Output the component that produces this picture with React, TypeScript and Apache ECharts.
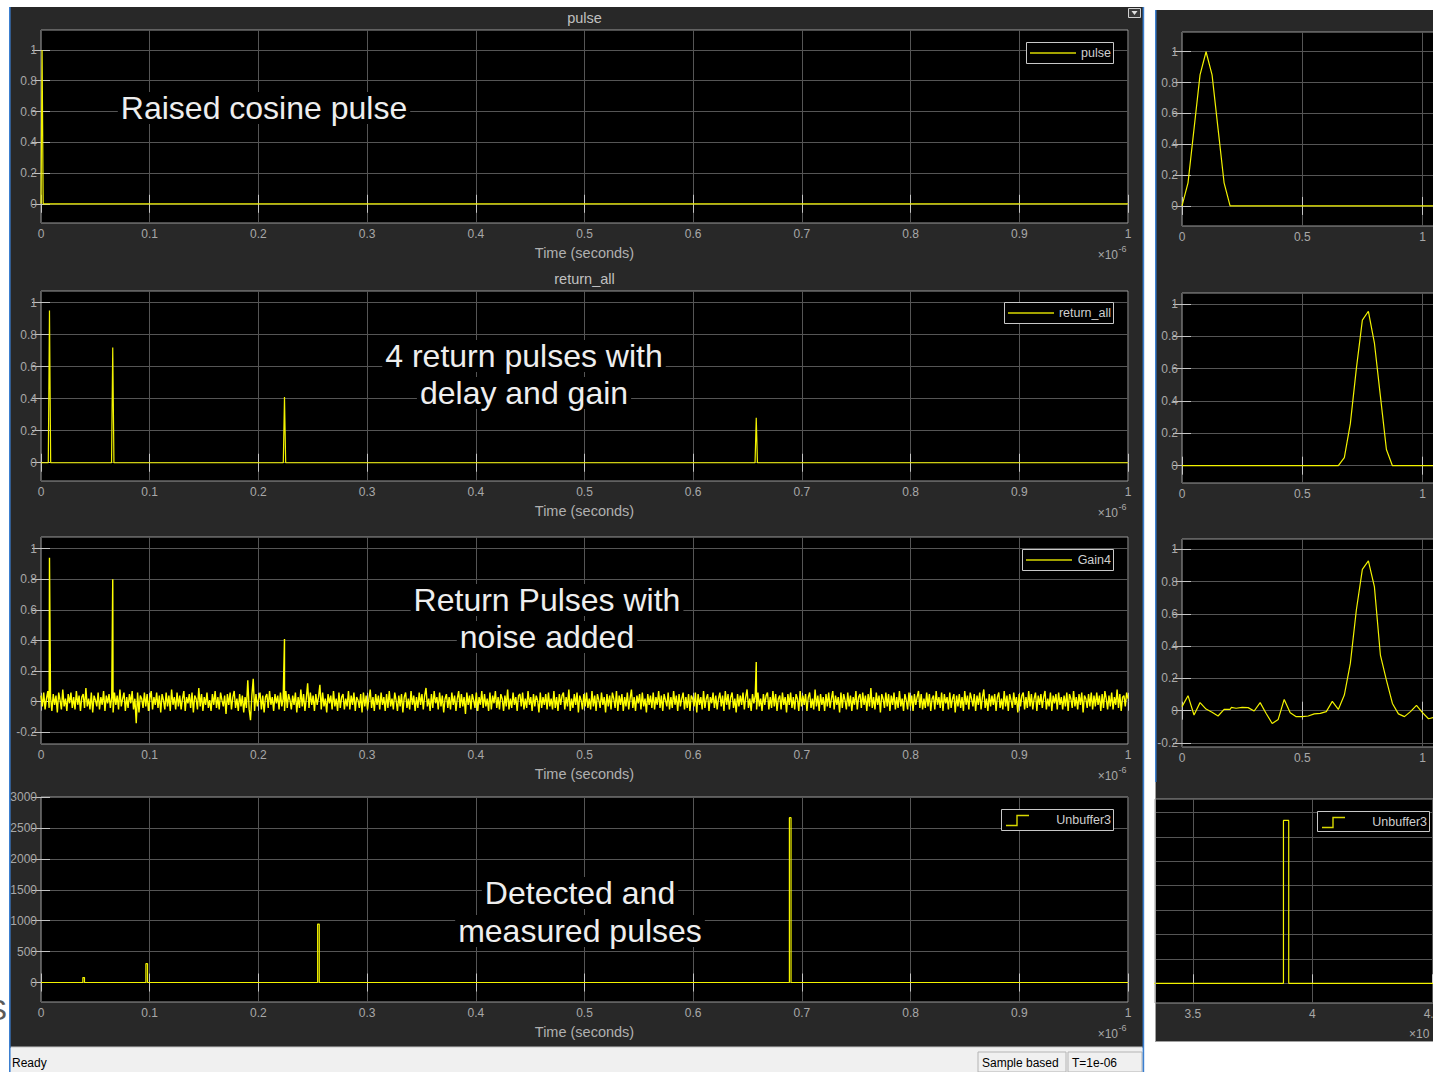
import React, { useEffect, useRef } from "react";
import * as echarts from "echarts";

const FONT = '"Liberation Sans", Arial, Helvetica, sans-serif';

// ---------- tick values ----------
const timeTicks = [0, 0.1, 0.2, 0.3, 0.4, 0.5, 0.6, 0.7, 0.8, 0.9, 1];
const unitTicks = [0, 0.2, 0.4, 0.6, 0.8, 1];
const noiseTicks = [-0.2, 0, 0.2, 0.4, 0.6, 0.8, 1];
const countTicks = [0, 500, 1000, 1500, 2000, 2500, 3000];
const zoomTimeTicks = [0, 0.5, 1];
const stepTimeTicks = [3.5, 4, 4.5];
const stepCountTicks = [0, 400, 800, 1200, 1600, 2000, 2400, 2800];

// ---------- panel 1: raised cosine pulse ----------
const pulseTimes = [0, 0.001, 0.002, 1];
const pulseValues = [0, 1, 0, 0];

// ---------- panel 2: return pulses ----------
const returnTimes = [0.0078, 0.066, 0.224, 0.658];
const returnGains = [0.95, 0.72, 0.41, 0.28];
const returnHalfWidth = 0.0011;

// ---------- panel 3: return pulses with noise (evenly sampled over 0..1) ----------
const noisyGains = [0.94, 0.8, 0.41, 0.26];
const noiseValues = [
  0.04, -0.03, 0.06, -0.05, 0.02, 0.07, -0.04, 0.03, -0.06, 0.05, -0.02, 0.04, -0.07, 0.06, 0.01, -0.05, 0.08, -0.03, 0.02, -0.06, 0.05, -0.01, 0.06, -0.04, 0.03,
  -0.05, 0.07, -0.02, 0.04, -0.06, 0.03, 0.05, -0.04, 0.09, -0.03, 0.02, -0.05, 0.06, -0.07, 0.04, 0.01, -0.03, 0.06, -0.05, 0.03, -0.02, 0.07, -0.06, 0.04, -0.01,
  0.05, -0.04, 0.03, -0.07, 0.06, -0.02, 0.04, -0.05, 0.08, -0.03, 0.02, 0.06, -0.06, 0.03, -0.04, 0.05, -0.01, 0.07, -0.05, 0.02, -0.14, 0.06, -0.07, 0.04, 0.02,
  -0.04, 0.06, -0.03, 0.05, -0.06, 0.02, 0.07, -0.05, 0.03, -0.02, 0.06, -0.04, 0.04, -0.07, 0.05, 0.01, -0.05, 0.06, -0.03, 0.04, -0.06, 0.08, -0.02, 0.03, -0.05,
  0.06, -0.03, 0.04, -0.05, 0.02, 0.07, -0.06, 0.03, -0.01, 0.05, -0.04, 0.06, -0.07, 0.04, 0.02, -0.05, 0.09, -0.03, 0.05, -0.06, 0.03, -0.02, 0.06, -0.04, 0.01,
  -0.06, 0.05, -0.02, 0.07, -0.04, 0.03, -0.05, 0.06, 0.01, -0.03, 0.04, -0.08, 0.05, -0.02, 0.06, -0.05, 0.03, 0.07, -0.04, 0.02, -0.06, 0.05, -0.03, 0.04, -0.07,
  0.03, -0.04, 0.14, -0.05, -0.12, 0.04, 0.15, -0.06, 0.05, -0.03, 0.02, 0.06, -0.05, 0.04, -0.07, 0.03, 0.05, -0.04, 0.07, -0.02, 0.03, -0.06, 0.05, -0.01, 0.04,
  -0.05, 0.06, -0.03, 0.02, -0.06, 0.07, -0.04, 0.05, 0.01, -0.05, 0.04, -0.02, 0.06, -0.07, 0.03, -0.04, 0.08, -0.03, 0.05, -0.06, 0.02, 0.12, -0.04, 0.06, -0.02,
  0.04, -0.06, 0.05, -0.02, 0.03, 0.11, -0.05, 0.06, -0.03, 0.02, -0.07, 0.05, -0.01, 0.04, -0.05, 0.07, -0.03, 0.02, -0.06, 0.06, -0.04, 0.03, 0.05, -0.05, 0.02,
  -0.03, 0.07, -0.05, 0.04, -0.02, 0.06, -0.06, 0.03, 0.01, -0.04, 0.05, -0.07, 0.06, -0.03, 0.04, -0.05, 0.02, 0.08, -0.04, 0.03, -0.06, 0.05, -0.02, 0.04, -0.05,
  0.06, -0.02, 0.03, -0.06, 0.05, -0.04, 0.07, -0.03, 0.02, -0.05, 0.06, 0.01, -0.06, 0.04, -0.03, 0.05, -0.07, 0.03, 0.06, -0.04, 0.02, -0.05, 0.07, -0.02, 0.04,
  -0.06, 0.03, -0.04, 0.06, -0.02, 0.05, -0.05, 0.04, 0.09, -0.03, 0.02, -0.06, 0.05, -0.04, 0.07, -0.01, 0.03, -0.05, 0.06, -0.03, 0.04, -0.07, 0.02, 0.05, -0.04,
  0.03, -0.05, 0.06, -0.02, 0.04, -0.06, 0.02, 0.07, -0.04, 0.05, -0.03, 0.03, -0.08, 0.06, -0.02, 0.04, -0.05, 0.05, 0.01, -0.04, 0.06, -0.06, 0.03, -0.02, 0.07,
  -0.04, 0.05, -0.03, 0.02, -0.06, 0.06, -0.05, 0.04, -0.01, 0.07, -0.04, 0.03, -0.05, 0.05, 0.02, -0.06, 0.04, -0.03, 0.08, -0.05, 0.02, -0.04, 0.06, -0.02, 0.03,
  -0.06, 0.04, 0.05, -0.03, 0.06, -0.05, 0.02, -0.04, 0.07, -0.02, 0.03, -0.06, 0.05, -0.03, 0.04, 0.01, -0.07, 0.06, -0.04, 0.03, -0.02, 0.05, -0.05, 0.06, -0.03,
  0.02, -0.05, 0.07, -0.04, 0.03, -0.06, 0.05, -0.02, 0.04, 0.06, -0.05, 0.03, -0.03, 0.08, -0.06, 0.02, -0.04, 0.05, -0.02, 0.06, -0.07, 0.04, 0.01, -0.05, 0.05,
  -0.03, 0.06, -0.04, 0.02, -0.05, 0.07, -0.03, 0.04, -0.06, 0.05, 0.01, -0.04, 0.06, -0.02, 0.03, -0.07, 0.05, -0.03, 0.04, -0.05, 0.06, 0.02, -0.04, 0.07, -0.06,
  0.04, -0.02, 0.05, -0.06, 0.03, -0.03, 0.06, -0.05, 0.02, 0.08, -0.04, 0.03, -0.06, 0.04, -0.01, 0.05, -0.05, 0.06, -0.03, 0.02, -0.07, 0.05, -0.02, 0.04, -0.04,
  0.06, -0.05, 0.03, -0.02, 0.07, -0.04, 0.04, -0.06, 0.05, 0.01, -0.03, 0.06, -0.05, 0.03, -0.04, 0.07, -0.02, 0.04, -0.06, 0.05, -0.03, 0.02, 0.06, -0.05, 0.03,
  -0.04, 0.05, -0.06, 0.04, 0.02, -0.03, 0.06, -0.07, 0.05, -0.02, 0.03, -0.05, 0.07, -0.04, 0.02, 0.05, -0.06, 0.03, -0.01, 0.06, -0.04, 0.04, -0.05, 0.02, 0.06,
  -0.03, 0.04, -0.06, 0.07, -0.02, 0.05, -0.05, 0.03, 0.06, -0.04, 0.02, -0.07, 0.05, -0.03, 0.04, -0.02, 0.06, -0.05, 0.03, 0.08, -0.04, 0.02, -0.06, 0.05, -0.01,
  0.04, -0.05, 0.06, -0.03, 0.02, -0.06, 0.05, -0.02, 0.04, 0.06, -0.05, 0.03, -0.04, 0.07, -0.03, 0.05, -0.06, 0.02, 0.04, -0.05, 0.06, -0.02, 0.03, -0.07, 0.05,
  -0.02, 0.06, -0.04, 0.03, -0.05, 0.05, 0.02, -0.06, 0.07, -0.03, 0.04, -0.02, 0.05, -0.06, 0.03, 0.06, -0.04, 0.02, -0.05, 0.08, -0.03, 0.04, -0.06, 0.05, -0.02,
  0.03, -0.06, 0.05, -0.03, 0.06, -0.04, 0.02, 0.07, -0.05, 0.04, -0.02, 0.03, -0.07, 0.06, -0.04, 0.05, 0.01, -0.05, 0.06, -0.03, 0.04, -0.06, 0.03, -0.02, 0.07,
  -0.05, 0.03, 0.05, -0.04, 0.06, -0.02, 0.04, -0.06, 0.05, -0.03, 0.09, -0.04, 0.03, -0.05, 0.06, -0.02, 0.04, -0.07, 0.05, 0.02, -0.04, 0.06, -0.03, 0.05, -0.06,
  0.04, -0.02, 0.06, -0.05, 0.03, -0.04, 0.07, -0.03, 0.02, -0.06, 0.05, 0.01, -0.05, 0.06, -0.03, 0.04, -0.06, 0.05, -0.02, 0.03, 0.07, -0.04, 0.05, -0.05, 0.02,
  -0.04, 0.06, -0.03, 0.05, -0.06, 0.02, 0.04, -0.05, 0.07, -0.02, 0.03, -0.04, 0.06, -0.06, 0.05, -0.01, 0.03, -0.05, 0.06, -0.04, 0.02, 0.05, -0.07, 0.04, -0.03,
  0.05, -0.04, 0.03, -0.06, 0.07, -0.02, 0.04, -0.05, 0.06, 0.02, -0.03, 0.05, -0.06, 0.04, -0.02, 0.06, -0.05, 0.03, 0.08, -0.04, 0.02, -0.06, 0.05, -0.03, 0.04,
  -0.02, 0.05, -0.06, 0.03, 0.06, -0.04, 0.02, -0.05, 0.07, -0.03, 0.04, -0.06, 0.05, 0.01, -0.04, 0.06, -0.02, 0.03, -0.07, 0.05, -0.03, 0.04, 0.06, -0.05, 0.03,
  -0.04, 0.07, -0.03, 0.05, -0.05, 0.02, 0.06, -0.06, 0.04, -0.02, 0.05, -0.04, 0.03, 0.07, -0.05, 0.02, -0.03, 0.06, -0.06, 0.04, -0.01, 0.05, -0.05, 0.06, -0.02,
  0.03, -0.05, 0.04, -0.03, 0.06, -0.06, 0.05, 0.02, -0.04, 0.07, -0.03, 0.03, -0.05, 0.05, -0.02, 0.06, -0.07, 0.04, 0.02, -0.04, 0.05, -0.03, 0.06, -0.05, 0.04,
  -0.03, 0.06, -0.02, 0.04, -0.06, 0.05, -0.04, 0.07, 0.02, -0.05, 0.04, -0.03, 0.06, -0.05, 0.03, -0.02, 0.08, -0.04, 0.05, -0.06, 0.03, 0.04, -0.03, 0.06, 0.02,
];

// ---------- panel 4: detected pulses ----------
const detectTimes = [0.0385, 0.0965, 0.2545, 0.6885];
const detectCounts = [80, 305, 945, 2665];
const detectWidth = 0.0015;

// ---------- right column zooms ----------
const zoomPulseTimes = [0, 0.025, 0.05, 0.075, 0.1, 0.125, 0.15, 0.175, 0.2, 1.2];
const zoomPulseValues = [0, 0.15, 0.5, 0.85, 1, 0.85, 0.5, 0.15, 0, 0];
const zoomReturnTimes = [0, 0.65, 0.675, 0.7, 0.725, 0.75, 0.775, 0.8, 0.825, 0.85, 0.875, 1.2];
const zoomReturnValues = [0, 0, 0.05, 0.26, 0.6, 0.9, 0.955, 0.76, 0.43, 0.1, 0, 0];
const zoomNoisyTimes = [
  0, 0.025, 0.05, 0.075, 0.1, 0.125, 0.15, 0.175, 0.2, 0.205, 0.225, 0.25, 0.275, 0.3, 0.325, 0.35,
  0.375, 0.4, 0.425, 0.45, 0.475, 0.5, 0.525, 0.55, 0.575, 0.6, 0.625, 0.65, 0.675, 0.7, 0.725, 0.75,
  0.775, 0.8, 0.825, 0.85, 0.875, 0.9, 0.925, 0.95, 0.975, 1.0, 1.025, 1.05, 1.075, 1.1, 1.125, 1.15,
];
const zoomNoisyValues = [
  0.025, 0.093, -0.027, 0.05, 0.01, -0.01, -0.033, 0.008, 0.008, 0.02, 0.015, 0.02, 0.019, -0.002, 0.05, -0.017,
  -0.079, -0.054, 0.07, -0.012, -0.037, -0.037, -0.033, -0.02, -0.017, -0.006, 0.058, 0.008, 0.097, 0.293, 0.624, 0.876,
  0.928, 0.769, 0.345, 0.19, 0.045, -0.02, -0.037, -0.006, 0.033, -0.012, -0.05, -0.04, 0.02, -0.03, 0.01, 0.0,
];
const stepEdges = [3.879, 3.901];
const stepCount = 2670;

// ---------- styling ----------
const LABEL = "#a8a8a8";
const TICK = "#c4c4c4";
const GRIDC = "#555555";
const FRAME = "#9a9a9a";
const SIGNAL = "#f2f200";
const WINDOW = "#282828";

type PanelDef = {
  left: number; top: number; width: number; height: number;
  x: number[]; y: number[]; xt: number[]; yt: number[]; hideY?: boolean;
};

const panels: PanelDef[] = [
  { left: 41, top: 30, width: 1087, height: 193, x: [0, 1], y: [-0.125, 1.13], xt: timeTicks, yt: unitTicks },
  { left: 41, top: 291, width: 1087, height: 190, x: [0, 1], y: [-0.114, 1.072], xt: timeTicks, yt: unitTicks },
  { left: 41, top: 537, width: 1087, height: 207, x: [0, 1], y: [-0.276, 1.076], xt: timeTicks, yt: noiseTicks },
  { left: 41, top: 797, width: 1087, height: 205, x: [0, 1], y: [-315, 3000], xt: timeTicks, yt: countTicks },
  { left: 1182, top: 32, width: 278, height: 194, x: [0, 1.156], y: [-0.13, 1.128], xt: zoomTimeTicks, yt: unitTicks },
  { left: 1182, top: 293, width: 278, height: 190, x: [0, 1.156], y: [-0.107, 1.068], xt: zoomTimeTicks, yt: unitTicks },
  { left: 1182, top: 539, width: 278, height: 208, x: [0, 1.156], y: [-0.225, 1.064], xt: zoomTimeTicks, yt: noiseTicks },
  { left: 1155, top: 799, width: 305, height: 204, x: [3.342, 4.617], y: [-323, 3021], xt: stepTimeTicks, yt: stepCountTicks, hideY: true },
];

const fmt = (v: number) => String(Math.round(v * 1000) / 1000);

function zip(a: number[], b: number[]) {
  return a.map((t, i) => [t, b[i]]);
}

function buildData() {
  const p1 = zip(pulseTimes, pulseValues);

  const p2: number[][] = [[0, 0]];
  returnTimes.forEach((t, i) => {
    p2.push([t - returnHalfWidth, 0], [t, returnGains[i]], [t + returnHalfWidth, 0]);
  });
  p2.push([1, 0]);

  const n = noiseValues.length;
  const p3: number[][] = noiseValues.map((v, i) => [i / (n - 1), v]);
  returnTimes.forEach((t, i) => p3.push([t, noisyGains[i]]));
  p3.sort((a, b) => a[0] - b[0]);

  const p4: number[][] = [[0, 0]];
  detectTimes.forEach((t, i) => {
    p4.push([t, 0], [t, detectCounts[i]], [t + detectWidth, detectCounts[i]], [t + detectWidth, 0]);
  });
  p4.push([1, 0]);

  const r1 = zip(zoomPulseTimes, zoomPulseValues);
  const r2 = zip(zoomReturnTimes, zoomReturnValues);
  const r3 = zip(zoomNoisyTimes, zoomNoisyValues);
  const r4 = [
    [3.3, 0], [stepEdges[0], 0], [stepEdges[0], stepCount],
    [stepEdges[1], stepCount], [stepEdges[1], 0], [4.7, 0],
  ];
  return [p1, p2, p3, p4, r1, r2, r3, r4];
}

function buildOption() {
  const grid: any[] = [];
  const xAxis: any[] = [];
  const yAxis: any[] = [];
  const labelStyle = { color: LABEL, fontSize: 12, fontFamily: FONT };

  panels.forEach((p, k) => {
    grid.push({
      left: p.left, top: p.top, width: p.width, height: p.height,
      show: true, backgroundColor: "#000", borderColor: FRAME, borderWidth: 1,
      containLabel: false, outerBoundsMode: "none",
    });
    const tick = (vals: number[], show = true) => ({
      show, inside: true, length: 9, customValues: vals,
      lineStyle: { color: TICK, width: 1 },
    });
    xAxis.push({
      type: "value", gridIndex: k, position: "bottom", min: p.x[0], max: p.x[1],
      axisLine: { show: false }, axisTick: tick(p.xt),
      axisLabel: { show: true, customValues: p.xt, margin: 5, formatter: fmt, ...labelStyle },
      splitLine: { show: true, lineStyle: { color: GRIDC, width: 1 } },
    });
    xAxis.push({
      type: "value", gridIndex: k, position: "top", min: p.x[0], max: p.x[1],
      axisLine: { show: false }, axisTick: tick(p.xt, !p.hideY),
      axisLabel: { show: false }, splitLine: { show: false },
    });
    yAxis.push({
      type: "value", gridIndex: k, position: "left", min: p.y[0], max: p.y[1],
      axisLine: { show: false }, axisTick: tick(p.yt, !p.hideY),
      axisLabel: { show: !p.hideY, customValues: p.yt, margin: 4, formatter: fmt, ...labelStyle },
      splitLine: { show: true, lineStyle: { color: GRIDC, width: 1 } },
    });
    yAxis.push({
      type: "value", gridIndex: k, position: "right", min: p.y[0], max: p.y[1],
      axisLine: { show: false }, axisTick: tick(p.yt, !p.hideY),
      axisLabel: { show: false }, splitLine: { show: false },
    });
  });

  const data = buildData();
  const series = data.map((d, k) => ({
    type: "line", xAxisIndex: 2 * k, yAxisIndex: 2 * k, data: d,
    symbol: "none", showSymbol: false, silent: true, clip: true,
    lineStyle: { color: k === 2 ? "#ffff00" : SIGNAL, width: k === 2 ? 1.4 : 1.2 },
    z: 3,
  }));

  const els: any[] = [];
  const rect = (x: number, y: number, w: number, h: number, style: any, z = -10) =>
    els.push({ type: "rect", z, shape: { x, y, width: w, height: h }, style });
  const text = (x: number, y: number, t: string, style: any, z = 60) =>
    els.push({ type: "text", z, x, y, style: { text: t, fontFamily: FONT, ...style } });

  // windows
  rect(10, 7, 1134, 1041, { fill: WINDOW });
  rect(9, 7, 1.6, 1065, { fill: "#3b7fd0" }, 40);
  rect(1142.6, 7, 1.6, 1065, { fill: "#3b7fd0" }, 40);
  rect(1155, 10, 290, 1032, { fill: WINDOW });
  rect(1155, 10, 1.5, 772, { fill: "#3b7fd0" }, 40);
  rect(1155, 782, 1, 260, { fill: "#a0a0a0" }, 40);
  rect(1155, 1041, 290, 1, { fill: "#a0a0a0" }, 40);
  // status bar
  rect(10.6, 1047, 1132, 25, { fill: "#f0f0f0" }, 30);
  rect(10.6, 1046.5, 1132, 1, { fill: "#c4c4c4" }, 31);
  rect(978, 1052, 88, 20, { fill: "none", stroke: "#b4b4b4", lineWidth: 1 }, 32);
  rect(1068, 1052, 74, 20, { fill: "none", stroke: "#b4b4b4", lineWidth: 1 }, 32);
  text(12, 1063, "Ready", { fill: "#000", fontSize: 12, verticalAlign: "middle" });
  text(982, 1063, "Sample based", { fill: "#000", fontSize: 12, verticalAlign: "middle" });
  text(1072, 1063, "T=1e-06", { fill: "#000", fontSize: 12, verticalAlign: "middle" });
  // small undock icon
  rect(1128.5, 8.5, 12, 9, { fill: "#3a3a3a", stroke: "#d0d0d0", lineWidth: 1 }, 32);
  els.push({ type: "polygon", z: 33, shape: { points: [[1131.5, 11], [1137.5, 11], [1134.5, 15]] }, style: { fill: "#e0e0e0" } });
  // stray background glyph
  text(7, 1009, "S", { fill: "#5a5a5a", fontSize: 30, align: "right", verticalAlign: "middle" }, -5);

  // titles
  text(584.5, 18, "pulse", { fill: "#c0c0c0", fontSize: 14.5, align: "center", verticalAlign: "middle" });
  text(584.5, 279, "return_all", { fill: "#c0c0c0", fontSize: 14.5, align: "center", verticalAlign: "middle" });

  // x axis names and exponents (left column)
  panels.slice(0, 4).forEach((p) => {
    const b = p.top + p.height;
    text(584.5, b + 30, "Time (seconds)", { fill: "#b0b0b0", fontSize: 14.5, align: "center", verticalAlign: "middle" });
    text(1118, b + 32, "\u00d710", { fill: LABEL, fontSize: 12, align: "right", verticalAlign: "middle" });
    text(1118.5, b + 26, "-6", { fill: LABEL, fontSize: 9, align: "left", verticalAlign: "middle" });
  });
  text(1409, 1034, "\u00d710", { fill: LABEL, fontSize: 12, align: "left", verticalAlign: "middle" });

  // legends
  const legends = [
    { x: 1026, y: 42, w: 87, h: 21, label: "pulse", step: false },
    { x: 1004, y: 302, w: 109, h: 21, label: "return_all", step: false },
    { x: 1022, y: 549, w: 91, h: 21, label: "Gain4", step: false },
    { x: 1001, y: 809, w: 112, h: 21, label: "Unbuffer3", step: true },
    { x: 1317, y: 811, w: 112, h: 20, label: "Unbuffer3", step: true },
  ];
  legends.forEach((L) => {
    rect(L.x + 0.5, L.y + 0.5, L.w, L.h, { fill: "#000", stroke: "#c8c8c8", lineWidth: 1 }, 50);
    const my = L.y + L.h / 2 + 0.5;
    if (L.step) {
      els.push({
        type: "polyline", z: 51,
        shape: { points: [[L.x + 5, L.y + 16.5], [L.x + 16, L.y + 16.5], [L.x + 16, L.y + 6.5], [L.x + 28, L.y + 6.5]] },
        style: { stroke: "#d8d800", lineWidth: 1.4, fill: "none" },
      });
    } else {
      els.push({ type: "line", z: 51, shape: { x1: L.x + 4, y1: my, x2: L.x + 50, y2: my }, style: { stroke: "#d8d800", lineWidth: 1.4 } });
    }
    text(L.x + L.w - 2, my, L.label, { fill: "#cfcfcf", fontSize: 12.5, align: "right", verticalAlign: "middle" }, 52);
  });

  // annotations
  const note = (x: number, y: number, t: string) =>
    text(x, y, t, {
      fill: "#eeeeee", fontSize: 32, align: "center", verticalAlign: "middle",
      backgroundColor: "#000", padding: [0, 3],
    }, 45);
  note(264, 108, "Raised cosine pulse");
  note(524, 356, "4 return pulses with");
  note(524, 393, "delay and gain");
  note(547, 600, "Return Pulses with");
  note(547, 637, "noise added");
  note(580, 893, "Detected and");
  note(580, 931, "measured pulses");

  return {
    animation: false,
    backgroundColor: "#ffffff",
    textStyle: { fontFamily: FONT },
    grid, xAxis, yAxis, series,
    graphic: { elements: els },
  };
}

export default function App() {
  const ref = useRef<HTMLDivElement>(null);
  useEffect(() => {
    document.body.style.margin = "0";
    const chart = echarts.init(ref.current as HTMLDivElement, null, { renderer: "svg" });
    chart.setOption(buildOption() as any);
    return () => chart.dispose();
  }, []);
  return (
    <div
      ref={ref}
      style={{ position: "absolute", left: 0, top: 0, width: 1433, height: 1072, overflow: "hidden" }}
    />
  );
}
